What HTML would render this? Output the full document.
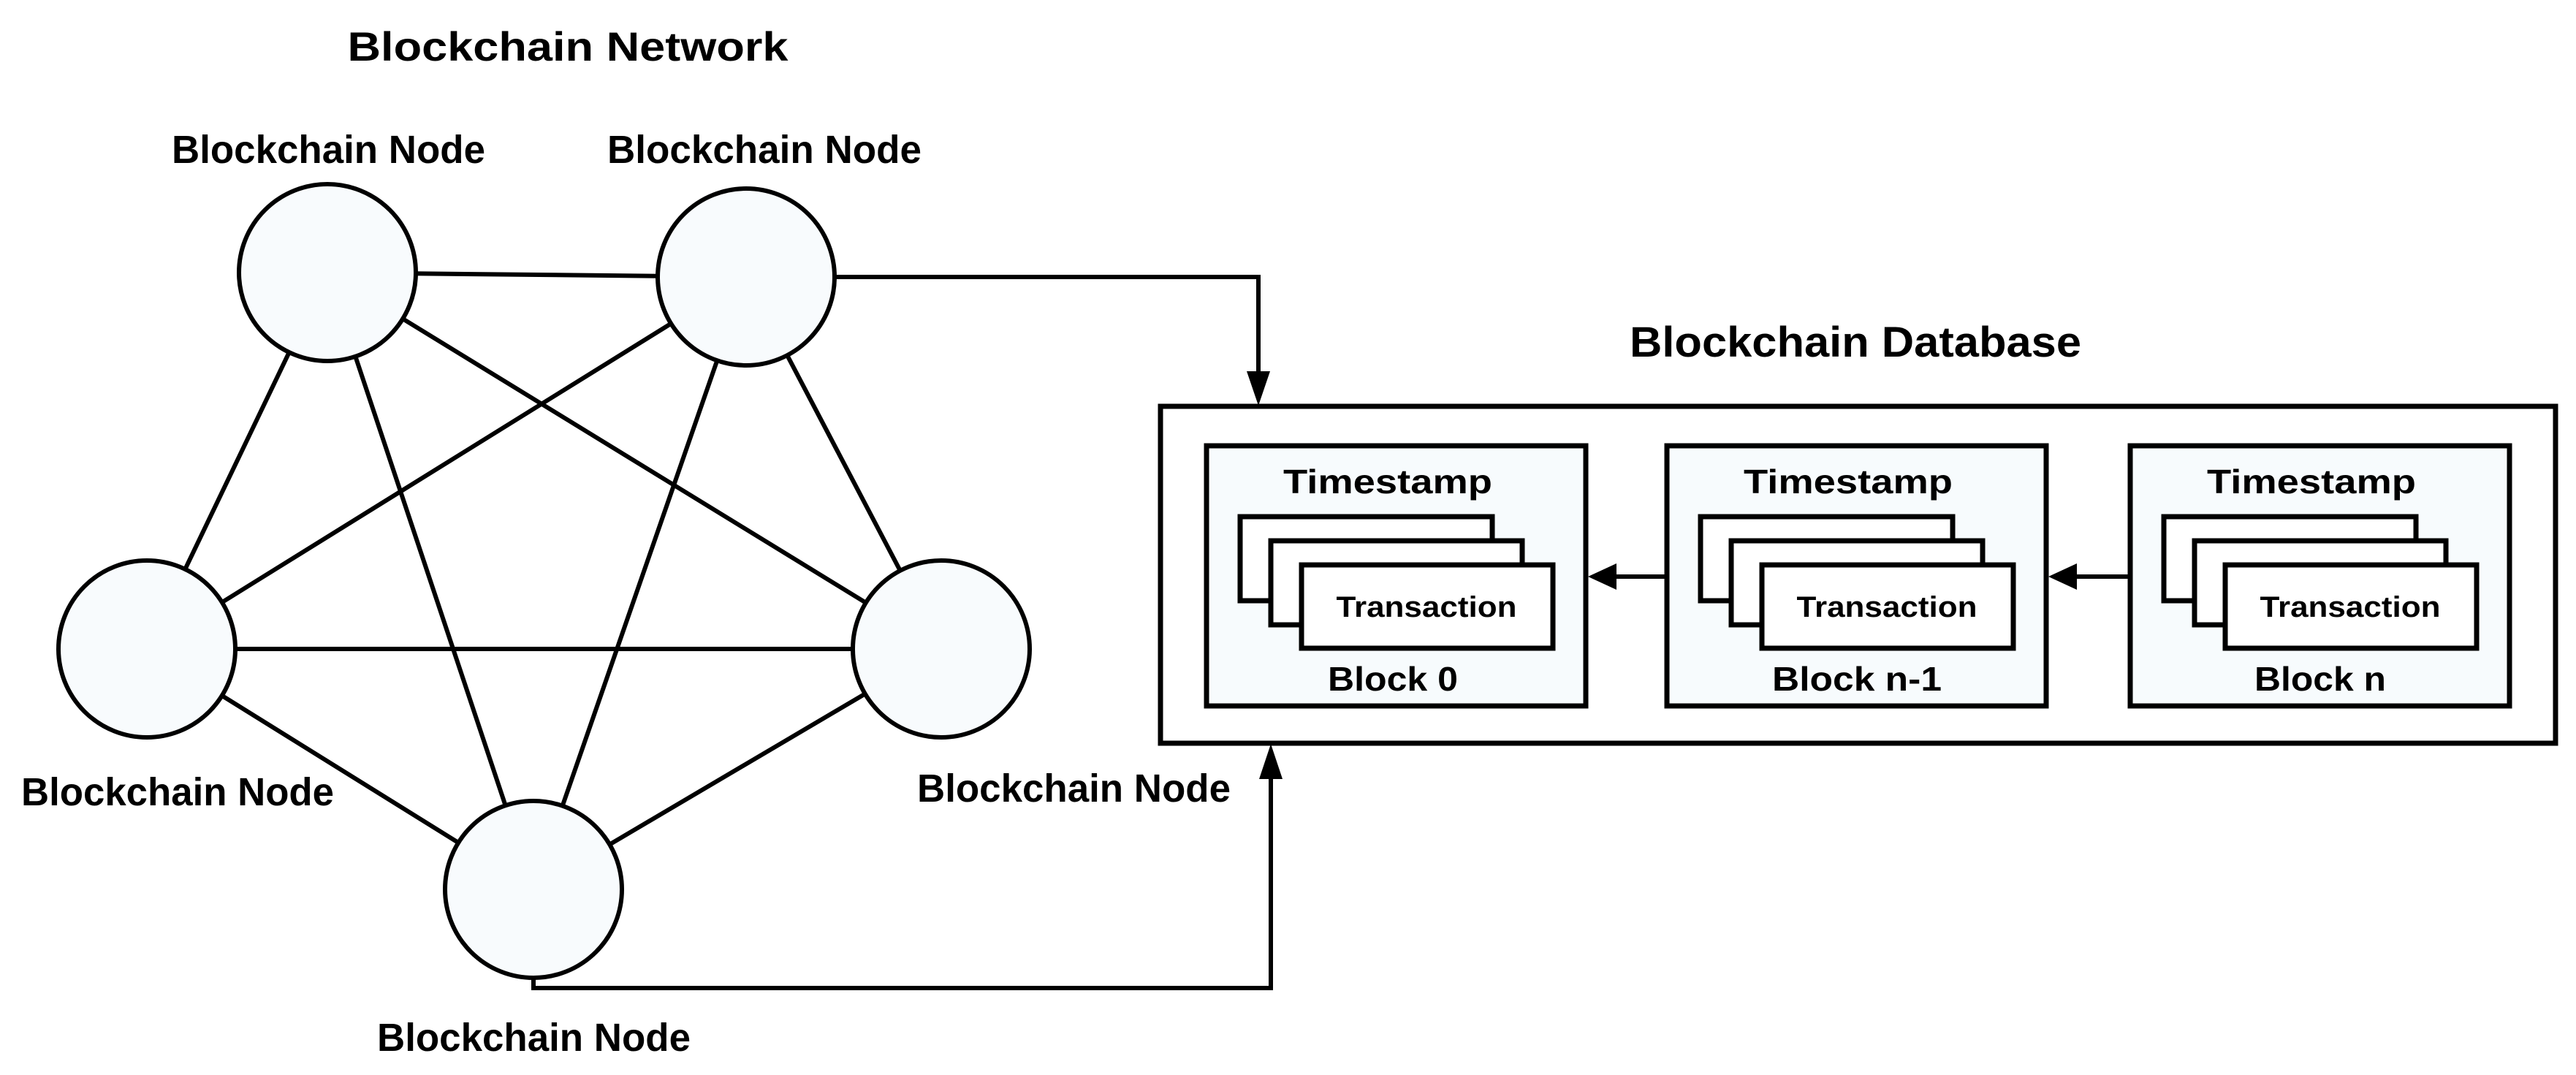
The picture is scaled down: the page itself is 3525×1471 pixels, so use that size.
<!DOCTYPE html>
<html><head><meta charset="utf-8"><style>
html,body{margin:0;padding:0;background:#fff;}
svg{display:block;}
text{font-family:"Liberation Sans",sans-serif;font-weight:bold;fill:#000;}
</style></head><body>
<svg width="3525" height="1471" viewBox="0 0 3525 1471" xmlns="http://www.w3.org/2000/svg">
<defs>
<g id="blk">
  <rect x="1651" y="610" width="519" height="356" fill="#f7fbfd" stroke="#000" stroke-width="7"/>
  <text x="1899" y="675" font-size="46" text-anchor="middle" textLength="286" lengthAdjust="spacingAndGlyphs">Timestamp</text>
  <rect x="1697" y="707" width="345" height="115" fill="#fff" stroke="#000" stroke-width="7"/>
  <rect x="1739" y="740" width="344" height="115" fill="#fff" stroke="#000" stroke-width="7"/>
  <rect x="1781" y="773" width="344" height="114" fill="#fff" stroke="#000" stroke-width="7"/>
  <text x="1952" y="844" font-size="40" text-anchor="middle" textLength="247" lengthAdjust="spacingAndGlyphs">Transaction</text>
</g>
</defs>
<g stroke="#000" stroke-width="6" fill="none">
  <line x1="448" y1="373" x2="1021" y2="379"/>
  <line x1="448" y1="373" x2="1288" y2="888"/>
  <line x1="448" y1="373" x2="730" y2="1217"/>
  <line x1="448" y1="373" x2="201" y2="888"/>
  <line x1="1021" y1="379" x2="201" y2="888"/>
  <line x1="1021" y1="379" x2="730" y2="1217"/>
  <line x1="1021" y1="379" x2="1288" y2="888"/>
  <line x1="201" y1="888" x2="1288" y2="888"/>
  <line x1="201" y1="888" x2="730" y2="1217"/>
  <line x1="1288" y1="888" x2="730" y2="1217"/>
  <polyline points="1142,379 1722,379 1722,515"/>
  <polyline points="730,1338 730,1352 1739,1352 1739,1060"/>
</g>
<g fill="#f8fbfd" stroke="#000" stroke-width="6">
  <circle cx="448" cy="373" r="121"/>
  <circle cx="1021" cy="379" r="121"/>
  <circle cx="201" cy="888" r="121"/>
  <circle cx="1288" cy="888" r="121"/>
  <circle cx="730" cy="1217" r="121"/>
</g>
<polygon points="1706,508 1738,508 1722,555" fill="#000"/>
<polygon points="1723,1066 1755,1066 1739,1018" fill="#000"/>
<rect x="1588" y="556" width="1909" height="461" fill="#fff" stroke="#000" stroke-width="7"/>
<use href="#blk"/>
<use href="#blk" transform="translate(630,0)"/>
<use href="#blk" transform="translate(1264,0)"/>
<text x="1906" y="945" font-size="46" text-anchor="middle" textLength="178" lengthAdjust="spacingAndGlyphs">Block 0</text>
<text x="2541" y="945" font-size="46" text-anchor="middle" textLength="232" lengthAdjust="spacingAndGlyphs">Block n-1</text>
<text x="3175" y="945" font-size="46" text-anchor="middle" textLength="180" lengthAdjust="spacingAndGlyphs">Block n</text>
<g stroke="#000" stroke-width="6"><line x1="2281" y1="789" x2="2200" y2="789"/><line x1="2915" y1="789" x2="2830" y2="789"/></g>
<polygon points="2173,789 2212,771 2212,807" fill="#000"/>
<polygon points="2803,789 2842,771 2842,807" fill="#000"/>
<text x="777" y="83" font-size="56" text-anchor="middle" textLength="603" lengthAdjust="spacingAndGlyphs">Blockchain Network</text>
<text x="2539" y="488" font-size="58" text-anchor="middle" textLength="618" lengthAdjust="spacingAndGlyphs">Blockchain Database</text>
<g font-size="54">
<text x="235" y="223" textLength="429" lengthAdjust="spacingAndGlyphs">Blockchain Node</text>
<text x="831" y="223" textLength="430" lengthAdjust="spacingAndGlyphs">Blockchain Node</text>
<text x="29" y="1102" textLength="428" lengthAdjust="spacingAndGlyphs">Blockchain Node</text>
<text x="1255" y="1097" textLength="429" lengthAdjust="spacingAndGlyphs">Blockchain Node</text>
<text x="516" y="1438" textLength="429" lengthAdjust="spacingAndGlyphs">Blockchain Node</text>
</g>
</svg>
</body></html>
